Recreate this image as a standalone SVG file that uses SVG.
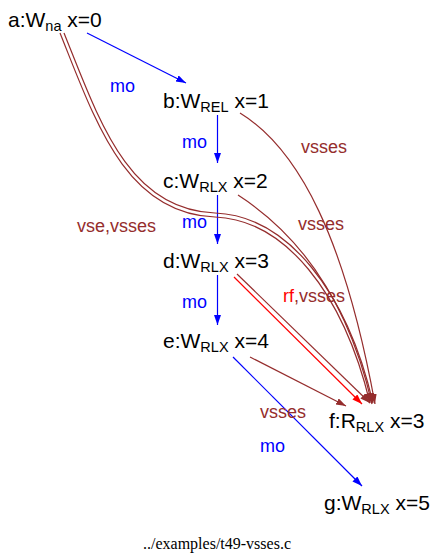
<svg xmlns="http://www.w3.org/2000/svg" width="435" height="558" viewBox="0 0 435 558">
  <style>
    .node { font-family: "Liberation Sans", "DejaVu Sans", sans-serif; font-size: 21px; fill: #000; }
    .sub { font-size: 14.5px; }
    .lbl { font-family: "Liberation Sans", "DejaVu Sans", sans-serif; font-size: 18px; }
    .mo { fill: #0000ff; }
    .vs { fill: #952d2d; }
    .rf { fill: #ff0000; }
    .e-mo { stroke: #0000ff; stroke-width: 1.2; fill: none; marker-end: url(#ah-blue); }
    .e-vs { stroke: #952d2d; stroke-width: 1.2; fill: none; marker-end: url(#ah-brown); }
    .e-rf { stroke: #ff0000; stroke-width: 1.2; fill: none; marker-end: url(#ah-red); }
    .foot { font-family: "Liberation Serif", "DejaVu Serif", serif; font-size: 16px; fill: #000; }
  </style>
  <defs>
    <marker id="ah-blue" markerUnits="userSpaceOnUse" markerWidth="11" markerHeight="8" refX="10" refY="3.5" orient="auto">
      <path d="M0,0 L10,3.5 L0,7 z" fill="#0000ff"/>
    </marker>
    <marker id="ah-brown" markerUnits="userSpaceOnUse" markerWidth="11" markerHeight="8" refX="10" refY="3.5" orient="auto">
      <path d="M0,0 L10,3.5 L0,7 z" fill="#952d2d"/>
    </marker>
    <marker id="ah-red" markerUnits="userSpaceOnUse" markerWidth="11" markerHeight="8" refX="10" refY="3.5" orient="auto">
      <path d="M0,0 L10,3.5 L0,7 z" fill="#ff0000"/>
    </marker>
  </defs>

  <g id="edges">
    <!-- modification order -->
    <path class="e-mo" d="M87,33 L186,83"/>
    <path class="e-mo" d="M217.5,115 L217.5,163"/>
    <path class="e-mo" d="M217.5,195 L217.5,244"/>
    <path class="e-mo" d="M217.5,275 L217.5,325"/>
    <path class="e-mo" d="M233,357 L362,486"/>
    <!-- vse / vsses from a -->
    <path class="e-vs" d="M60,33 C95,120 125,214 215,217 C285,220 343,292 370,403"/>
    <path class="e-vs" d="M64,33 C99,120 128,210 215,213 C288,216 347,292 373,403"/>
    <!-- vsses from b, c -->
    <path class="e-vs" d="M240,113 C300,150 345,240 375,404"/>
    <path class="e-vs" d="M238,195 C300,235 348,300 372,404"/>
    <!-- rf and vsses from d -->
    <path class="e-rf" d="M234,277 L362,404"/>
    <path class="e-vs" d="M237,274 L370,403"/>
    <!-- vsses from e -->
    <path class="e-vs" d="M250,357 L346,406"/>
  </g>

  <g id="edge-labels">
    <text class="lbl mo" x="110" y="92">mo</text>
    <text class="lbl mo" x="182" y="148">mo</text>
    <text class="lbl vs" x="301" y="153">vsses</text>
    <text class="lbl mo" x="182" y="228">mo</text>
    <text class="lbl vs" x="298" y="230">vsses</text>
    <text class="lbl vs" x="77" y="232">vse,vsses</text>
    <text class="lbl" x="283" y="302"><tspan class="rf">rf</tspan><tspan class="vs">,vsses</tspan></text>
    <text class="lbl mo" x="182" y="308">mo</text>
    <text class="lbl vs" x="260" y="418">vsses</text>
    <text class="lbl mo" x="260" y="452">mo</text>
  </g>

  <g id="node-a"><text class="node" x="8" y="27">a:W<tspan class="sub" dy="4">na</tspan><tspan dy="-4"> x=0</tspan></text></g>
  <g id="node-b"><text class="node" x="163" y="108">b:W<tspan class="sub" dy="4">REL</tspan><tspan dy="-4"> x=1</tspan></text></g>
  <g id="node-c"><text class="node" x="163" y="188">c:W<tspan class="sub" dy="4">RLX</tspan><tspan dy="-4"> x=2</tspan></text></g>
  <g id="node-d"><text class="node" x="163" y="268">d:W<tspan class="sub" dy="4">RLX</tspan><tspan dy="-4"> x=3</tspan></text></g>
  <g id="node-e"><text class="node" x="163" y="348">e:W<tspan class="sub" dy="4">RLX</tspan><tspan dy="-4"> x=4</tspan></text></g>
  <g id="node-f"><text class="node" x="329" y="428">f:R<tspan class="sub" dy="4">RLX</tspan><tspan dy="-4"> x=3</tspan></text></g>
  <g id="node-g"><text class="node" x="324" y="510">g:W<tspan class="sub" dy="4">RLX</tspan><tspan dy="-4"> x=5</tspan></text></g>

  <text class="foot" x="217" y="549" text-anchor="middle">../examples/t49-vsses.c</text>
</svg>
